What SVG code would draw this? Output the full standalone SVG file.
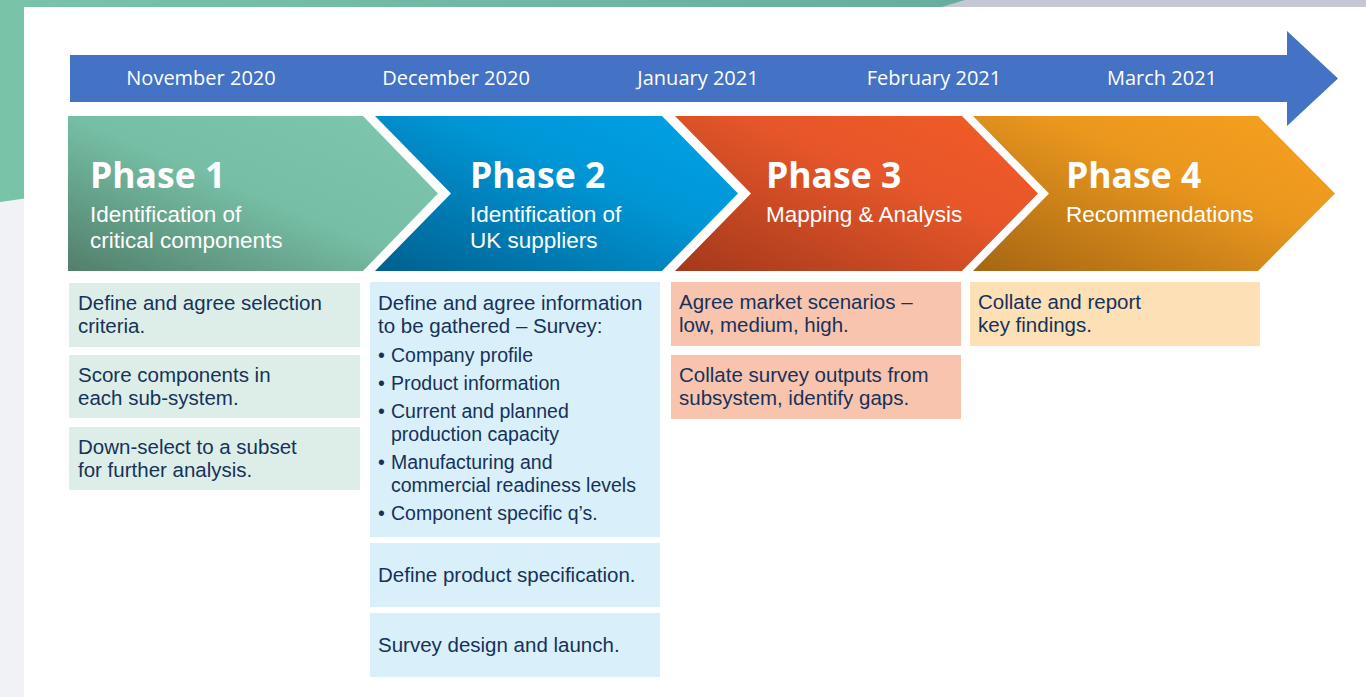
<svg xmlns="http://www.w3.org/2000/svg" width="1366" height="697" viewBox="0 0 1366 697">
<style>
.month{font-family:"Open Sans","Liberation Sans",sans-serif;font-size:20px;fill:#ffffff;text-anchor:middle}
.ph{font-family:"Open Sans","Liberation Sans",sans-serif;font-size:35.5px;font-weight:700;fill:#ffffff}
.sub{font-family:"Liberation Sans",Arial,sans-serif;font-size:22.5px;fill:#ffffff}
.t{font-family:"Liberation Sans",Arial,sans-serif;font-size:20.5px;fill:#16325a}
.b{font-family:"Liberation Sans",Arial,sans-serif;font-size:19.5px;fill:#16325a}
.g1{fill:#ddeee8}.g2{fill:#d9eff9}.g3{fill:#f9c4ae}.g4{fill:#fde0b6}
</style>
<defs>
<linearGradient id="bgTeal" x1="0" y1="0" x2="1" y2="0"><stop offset="0" stop-color="#79c3a9"/><stop offset="1" stop-color="#67ad9d"/></linearGradient>
<linearGradient id="bgGray" x1="0" y1="0" x2="1" y2="0"><stop offset="0" stop-color="#f1f2f6"/><stop offset="1" stop-color="#d9dce6"/></linearGradient>
<linearGradient id="p1" x1="0" y1="1" x2="1" y2="0"><stop offset="0" stop-color="#527f6b"/><stop offset="0.5" stop-color="#76bea5"/><stop offset="1" stop-color="#7ec7ae"/></linearGradient>
<linearGradient id="p2" x1="0" y1="1" x2="1" y2="0"><stop offset="0" stop-color="#00608f"/><stop offset="0.6" stop-color="#0096d6"/><stop offset="1" stop-color="#00a3e6"/></linearGradient>
<linearGradient id="p3" x1="0" y1="1" x2="1" y2="0"><stop offset="0" stop-color="#a3391b"/><stop offset="0.6" stop-color="#e7562a"/><stop offset="1" stop-color="#f25c25"/></linearGradient>
<linearGradient id="p4" x1="0" y1="1" x2="1" y2="0"><stop offset="0" stop-color="#a56613"/><stop offset="0.6" stop-color="#ea971e"/><stop offset="1" stop-color="#f8a11f"/></linearGradient>
</defs>
<g id="background">
<rect x="0" y="0" width="1366" height="697" fill="url(#bgGray)"/>
<rect x="900" y="0" width="466" height="8" fill="#c4c8d6"/>
<path d="M0,0 H965 C700,80 300,160 0,202 Z" fill="url(#bgTeal)"/>
<rect x="24" y="7" width="1342" height="690" fill="#ffffff"/>
</g>
<g id="timeline">
<path d="M70,55 H1287 V31 L1338,78.5 L1287,126 V102 H70 Z" fill="#4472c4"/>
<text class="month" x="201" y="85">November 2020</text>
<text class="month" x="456" y="85">December 2020</text>
<text class="month" x="698" y="85">January 2021</text>
<text class="month" x="934" y="85">February 2021</text>
<text class="month" x="1162" y="85">March 2021</text>
</g>
<g id="phase1">
<path d="M68,116 H363 L438,193.5 L363,271 H68 Z" fill="url(#p1)"/>
<text class="ph" x="90" y="188">Phase 1</text>
<text class="sub" x="90" y="222">Identification of<tspan x="90" dy="26">critical components</tspan></text>
</g>
<g id="phase2">
<path d="M375,116 H662 L738,193.5 L662,271 H375 L451,193.5 Z" fill="url(#p2)"/>
<text class="ph" x="470" y="188">Phase 2</text>
<text class="sub" x="470" y="222">Identification of<tspan x="470" dy="26">UK suppliers</tspan></text>
</g>
<g id="phase3">
<path d="M675,116 H962 L1038,193.5 L962,271 H675 L751,193.5 Z" fill="url(#p3)"/>
<text class="ph" x="766" y="188">Phase 3</text>
<text class="sub" x="766" y="222">Mapping &amp; Analysis</text>
</g>
<g id="phase4">
<path d="M973,116 H1258 L1335,193.5 L1258,271 H973 L1049,193.5 Z" fill="url(#p4)"/>
<text class="ph" x="1066" y="188">Phase 4</text>
<text class="sub" x="1066" y="222">Recommendations</text>
</g>
<g id="p1-tasks">
<rect class="g1" x="69" y="283" width="291" height="64"/>
<text class="t" x="78" y="310">Define and agree selection<tspan x="78" dy="23">criteria.</tspan></text>
<rect class="g1" x="69" y="355" width="291" height="63"/>
<text class="t" x="78" y="382">Score components in<tspan x="78" dy="23">each sub-system.</tspan></text>
<rect class="g1" x="69" y="427" width="291" height="63"/>
<text class="t" x="78" y="454">Down-select to a subset<tspan x="78" dy="23">for further analysis.</tspan></text>
</g>
<g id="p2-tasks">
<rect class="g2" x="370" y="282" width="290" height="255"/>
<text class="t" x="378" y="310">Define and agree information<tspan x="378" dy="23">to be gathered – Survey:</tspan></text>
<text class="b" x="378" y="362">•<tspan x="391">Company profile</tspan><tspan x="378" dy="28">•</tspan><tspan x="391">Product information</tspan><tspan x="378" dy="28">•</tspan><tspan x="391">Current and planned</tspan><tspan x="391" dy="23">production capacity</tspan><tspan x="378" dy="28">•</tspan><tspan x="391">Manufacturing and</tspan><tspan x="391" dy="23">commercial readiness levels</tspan><tspan x="378" dy="28">•</tspan><tspan x="391">Component specific q’s.</tspan></text>
<rect class="g2" x="370" y="543" width="290" height="64"/>
<text class="t" x="378" y="582">Define product specification.</text>
<rect class="g2" x="370" y="613" width="290" height="64"/>
<text class="t" x="378" y="652">Survey design and launch.</text>
</g>
<g id="p3-tasks">
<rect class="g3" x="671" y="282" width="290" height="64"/>
<text class="t" x="679" y="309">Agree market scenarios –<tspan x="679" dy="23">low, medium, high.</tspan></text>
<rect class="g3" x="671" y="355" width="290" height="64"/>
<text class="t" x="679" y="382">Collate survey outputs from<tspan x="679" dy="23">subsystem, identify gaps.</tspan></text>
</g>
<g id="p4-tasks">
<rect class="g4" x="970" y="282" width="290" height="64"/>
<text class="t" x="978" y="309">Collate and report<tspan x="978" dy="23">key findings.</tspan></text>
</g>
</svg>
